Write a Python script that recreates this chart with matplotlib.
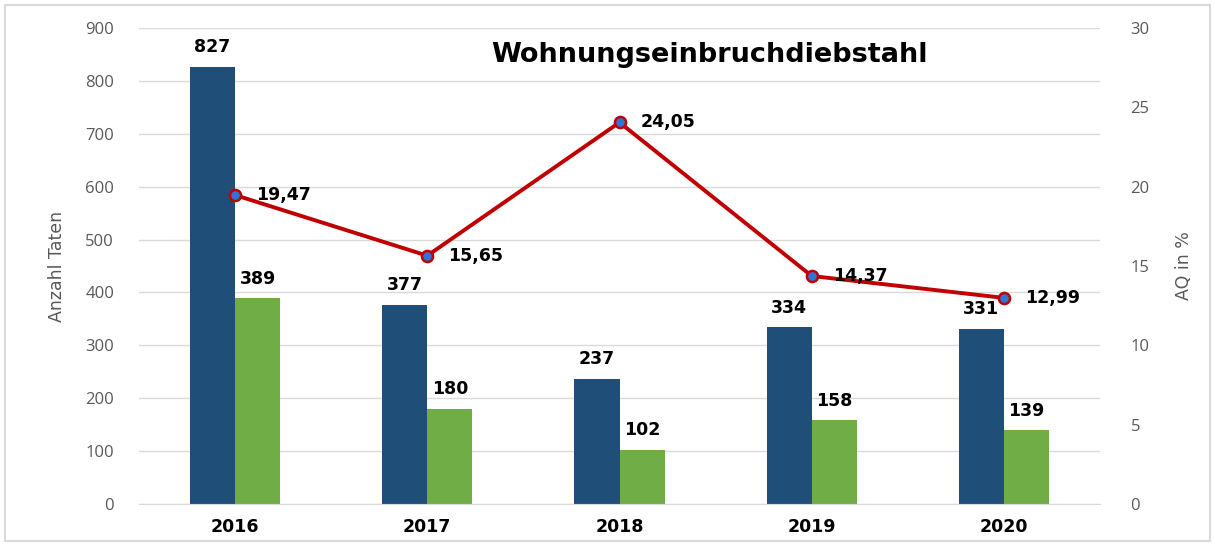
import numpy as np
import matplotlib
matplotlib.use('Agg')
import matplotlib.pyplot as plt
from matplotlib.patches import Rectangle

# ============ Daten ============ #
years = ["2016", "2017", "2018", "2019", "2020"]
taten = [827, 377, 237, 334, 331]
aufgeklaert = [389, 180, 102, 158, 139]
aq = [19.47, 15.65, 24.05, 14.37, 12.99]

blue = "#1f4e79"
green = "#70ad47"
red = "#c00000"
grey = "#595959"

fig = plt.figure(figsize=(12.15, 5.44), dpi=100)
ax = fig.add_axes([139 / 1215, 40 / 544, 961 / 1215, 476 / 544])
ax2 = ax.twinx()

x = np.arange(len(years))
w = 0.235
b1 = ax.bar(x - w / 2, taten, w, color=blue, zorder=2)
b2 = ax.bar(x + w / 2, aufgeklaert, w, color=green, zorder=2)

for rect, v in zip(b1, taten):
    ax.text(rect.get_x() + rect.get_width() / 2, v + 20, str(v),
            ha="center", va="bottom", fontsize=12.5, fontweight="bold", color="black")
for rect, v in zip(b2, aufgeklaert):
    ax.text(rect.get_x() + rect.get_width() / 2, v + 20, str(v),
            ha="center", va="bottom", fontsize=12.5, fontweight="bold", color="black")

ax2.plot(x, aq, color=red, lw=2.8, marker="o", ms=8, mfc="#2e75d6", mec=red, mew=1.8, zorder=3)
for xi, v in zip(x, aq):
    ax2.text(xi + 0.11, v, f"{v:.2f}".replace(".", ","), ha="left", va="center",
             fontsize=12.5, fontweight="bold", color="black")

ax.set_xlim(-0.5, 4.5)
ax.set_ylim(0, 900)
ax2.set_ylim(0, 30)
ax.set_yticks(range(0, 901, 100))
ax2.set_yticks(range(0, 31, 5))
ax.set_xticks(x)
ax.set_xticklabels(years, fontsize=12.5, fontweight="bold")

ax.yaxis.grid(True, color="#d9d9d9", lw=1, zorder=0)
ax.set_axisbelow(True)
for a in (ax, ax2):
    for s in a.spines.values():
        s.set_visible(False)
    a.tick_params(length=0)
ax.spines["bottom"].set_visible(True)
ax.spines["bottom"].set_color("#d9d9d9")
ax.tick_params(axis="y", labelsize=12, labelcolor=grey, pad=18)
ax.tick_params(axis="x", pad=10)
ax2.tick_params(axis="y", labelsize=12, labelcolor=grey, pad=22)
for lab in ax.get_yticklabels() + ax2.get_yticklabels():
    lab.set_family("Open Sans")

ax.set_ylabel("Anzahl Taten", fontsize=12.5, color=grey, labelpad=14)
ax2.set_ylabel("AQ in %", fontsize=12.5, color=grey, labelpad=18)

fig.text(709 / 1215, 1 - 55 / 544, "Wohnungseinbruchdiebstahl", ha="center", va="center",
         fontsize=19.5, fontweight="bold")

fig.patches.append(Rectangle((5 / 1215, 3 / 544), 1205 / 1215, 536 / 544, transform=fig.transFigure,
                             fill=False, edgecolor="#d9d9d9", lw=1.5))

fig.savefig("out.png", dpi=100)
